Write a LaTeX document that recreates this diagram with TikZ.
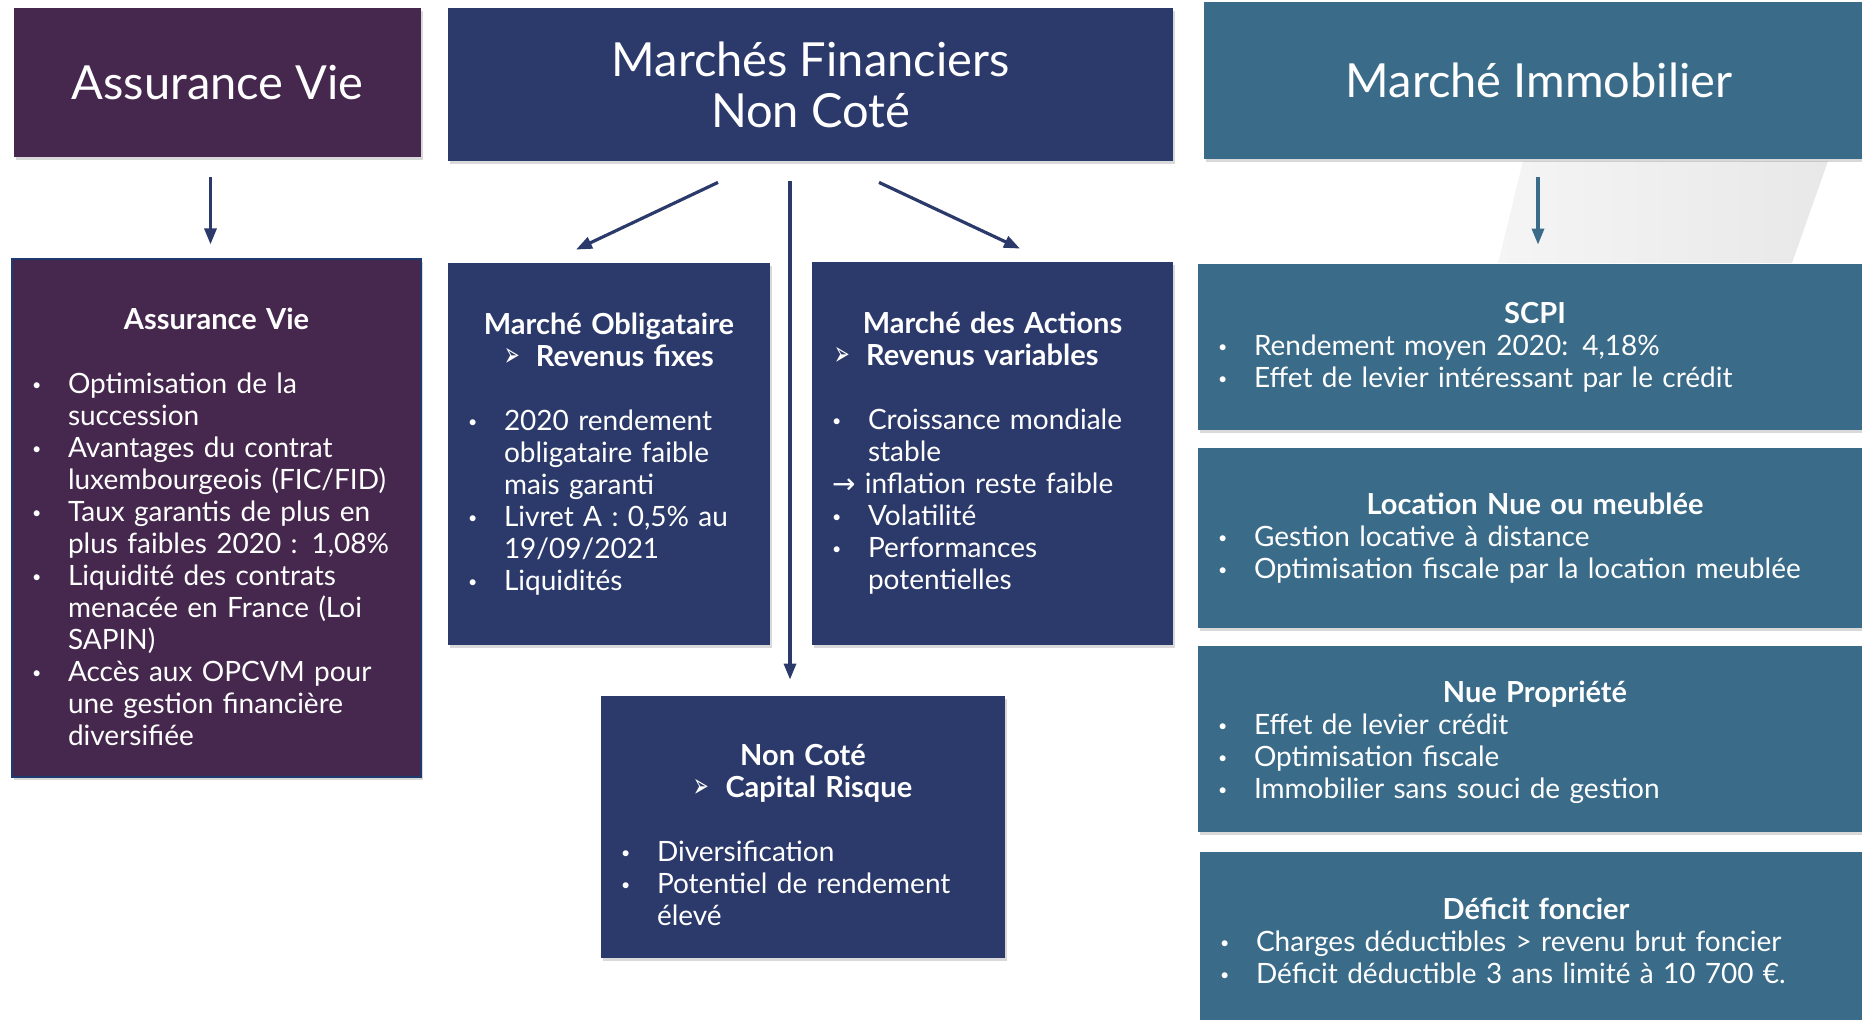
\documentclass[tikz,border=0pt]{standalone}
\usepackage{fontspec}
\setmainfont{Lato}
\newfontfamily\symfont{DejaVu Sans}
\usetikzlibrary{arrows.meta,shadows}
\setlength{\parindent}{0pt}

\definecolor{avcol}{HTML}{46284E}
\definecolor{avline}{HTML}{1F3A6E}
\definecolor{mfcol}{HTML}{2C3A6B}
\definecolor{imcol}{HTML}{3A6B89}

\newcommand{\bl}{\makebox[16.5pt][l]{\hspace*{-1.5pt}\raisebox{1.6pt}{\fontsize{8}{8}\selectfont\textbullet}}}
\newcommand{\ct}{\hspace*{16.5pt}}
\newcommand{\ttl}[1]{\makebox[\hsize]{\fontsize{14.5}{16}\bfseries #1}}
\newcommand{\subttl}[2][0pt]{\makebox[\hsize]{\hspace*{#1}\fontsize{14.5}{16}\bfseries
    {\symfont\fontsize{17}{17}\selectfont\scalebox{0.55}[1]{➢}}\hspace{8pt}#2}}

\tikzset{
    head/.style={fill=#1, text=white, inner sep=0pt, align=center,
        font=\fontsize{23.5}{25.5}\selectfont,
        drop shadow={opacity=0.3, shadow xshift=1pt, shadow yshift=-1.5pt}},
    box/.style={fill=#1, text=white, inner sep=0pt, align=left,
        font=\fontsize{14}{16}\selectfont,
        drop shadow={opacity=0.3, shadow xshift=1pt, shadow yshift=-1.5pt}},
    arr/.style={-{Triangle[length=8pt,width=6pt]}, line width=1.6pt, draw=#1}
}

\begin{document}
\begin{tikzpicture}[x=0.5pt, y=-0.5pt]
    \useasboundingbox (0,0) rectangle (1862,1019);

    % Reflection under the real estate header
    \shade[left color=black!4, middle color=white, right color=black!9]
        (1523,161) -- (1828,161) -- (1792,263) -- (1498,263) -- cycle;

    % Headers
    \node[head=avcol, minimum width=203.5pt, minimum height=74.5pt] (avhead) at (217.5,82.5) {Assurance Vie};
    \node[head=mfcol, minimum width=362.5pt, minimum height=76.5pt] (mfhead) at (810.5,84.5) {Marchés Financiers\\Non Coté};
    \node[head=imcol, minimum width=335pt, minimum height=78.5pt] (imhead) at (1539,80.5) {Marché Immobilier};

    % Assurance vie
    \node[box=avcol, draw=avline, line width=0.6pt, minimum width=204.5pt, minimum height=259pt, text width=181.5pt] (avbox) at (216.5,518) {%
        \ttl{\rule{0pt}{19.5pt}Assurance Vie}\\[16pt]
        \bl Optimisation de la\\ \ct succession\\
        \bl Avantages du contrat\\ \ct luxembourgeois (FIC/FID)\\
        \bl Taux garantis de plus en\\ \ct plus faibles 2020 : 1,08\%\\
        \bl Liquidité des contrats\\ \ct menacée en France (Loi\\ \ct SAPIN)\\
        \bl Accès aux OPCVM pour\\ \ct une gestion financière\\ \ct diversifiée};

    % Marches financiers
    \node[box=mfcol, minimum width=161pt, minimum height=191pt, text width=138pt] (oblig) at (609,454) {%
        \ttl{Marché Obligataire}\\ \subttl{Revenus fixes}\\[16pt]
        \bl 2020 rendement\\ \ct obligataire faible\\ \ct mais garanti\\
        \bl Livret A : 0,5\% au\\ \ct 19/09/2021\\
        \bl Liquidités};
    \node[box=mfcol, minimum width=180.5pt, minimum height=191.5pt, text width=157.5pt] (actions) at (992.5,453.5) {%
        \ttl{Marché des Actions}\\ \subttl[-26pt]{Revenus variables}\\[16pt]
        \bl Croissance mondiale\\ \ct stable\\
        \hspace*{-1.5pt}{\symfont →} inflation reste faible\\
        \bl Volatilité\\
        \bl Performances\\ \ct potentielles};
    \node[box=mfcol, minimum width=202pt, minimum height=131pt, text width=179pt] (noncote) at (803,827) {%
        \ttl{\rule{0pt}{19pt}Non Coté}\\ \subttl{Capital Risque}\\[16pt]
        \bl Diversification\\
        \bl Potentiel de rendement\\ \ct élevé};

    % Marche immobilier
    \node[box=imcol, minimum width=337pt, minimum height=83pt, text width=314pt] (scpi) at (1535,347) {%
        \ttl{SCPI}\\
        \bl Rendement moyen 2020: 4,18\%\\
        \bl Effet de levier intéressant par le crédit};
    \node[box=imcol, minimum width=337pt, minimum height=90pt, text width=314pt] (location) at (1535,538) {%
        \ttl{Location Nue ou meublée}\\
        \bl Gestion locative à distance\\
        \bl Optimisation fiscale par la location meublée};
    \node[box=imcol, minimum width=337pt, minimum height=93pt, text width=314pt] (nuepro) at (1535,739) {%
        \ttl{\rule{0pt}{14pt}Nue Propriété}\\
        \bl Effet de levier crédit\\
        \bl Optimisation fiscale\\
        \bl Immobilier sans souci de gestion};
    \node[box=imcol, minimum width=336pt, minimum height=89pt, text width=313pt] (deficit) at (1536,941) {%
        \ttl{Déficit foncier}\\
        \bl Charges déductibles > revenu brut foncier\\
        \bl Déficit déductible 3 ans limité à 10 700 €.};

    % Arrows
    \draw[arr=mfcol] ([xshift=-3.5pt, yshift=-10pt]avhead.south) -- ([xshift=-3pt, yshift=7pt]avbox.north);
    \draw[arr=mfcol] ([xshift=-46.25pt, yshift=-10.5pt]mfhead.south) -- ([xshift=-16.5pt, yshift=6.5pt]oblig.north);
    \draw[arr=mfcol] ([xshift=-10.25pt, yshift=-10pt]mfhead.south) -- ([xshift=-6.5pt, yshift=8pt]noncote.north);
    \draw[arr=mfcol] ([xshift=34.25pt, yshift=-10.5pt]mfhead.south) -- ([xshift=13.75pt, yshift=6.5pt]actions.north);
    \draw[arr=imcol] ([xshift=-0.5pt, yshift=-9pt]imhead.south) -- ([xshift=1.5pt, yshift=9.5pt]scpi.north);
\end{tikzpicture}
\end{document}
